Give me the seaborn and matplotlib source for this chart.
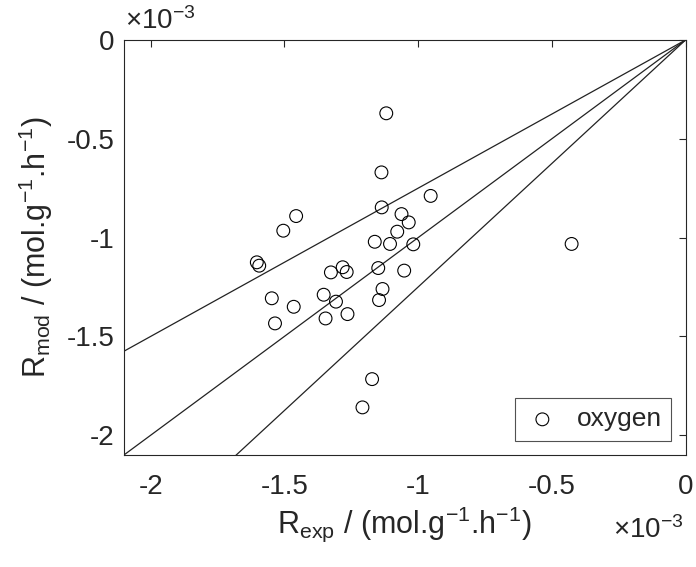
import matplotlib
matplotlib.use("Agg")
import matplotlib.pyplot as plt
import matplotlib.ticker as mticker
import numpy as np
import pandas as pd
import seaborn as sns

# Valori (mol.g-1.h-1)
r_exp = [-1.119e-3, -1.137e-3, -0.953e-3, -1.136e-3, -1.456e-3, -1.062e-3, -1.035e-3,
         -1.504e-3, -1.078e-3, -1.162e-3, -1.105e-3, -1.018e-3, -1.603e-3, -1.594e-3,
         -1.326e-3, -1.282e-3, -1.267e-3, -1.149e-3, -1.052e-3, -1.133e-3, -1.146e-3,
         -1.547e-3, -1.465e-3, -1.353e-3, -1.307e-3, -1.264e-3, -1.346e-3, -1.535e-3,
         -1.172e-3, -1.208e-3, -0.426e-3]
r_mod = [-0.371e-3, -0.670e-3, -0.789e-3, -0.847e-3, -0.891e-3, -0.881e-3, -0.923e-3,
         -0.965e-3, -0.970e-3, -1.021e-3, -1.032e-3, -1.034e-3, -1.125e-3, -1.142e-3,
         -1.176e-3, -1.150e-3, -1.174e-3, -1.154e-3, -1.167e-3, -1.260e-3, -1.316e-3,
         -1.307e-3, -1.350e-3, -1.289e-3, -1.324e-3, -1.387e-3, -1.409e-3, -1.434e-3,
         -1.716e-3, -1.859e-3, -1.032e-3]

# Rette di riferimento attraverso l'origine
slopes = [0.75, 1.0, 1.25]
x_lim = [-2.1e-3, 0]
y_lim = [-2.1e-3, 0]

df = pd.DataFrame({"R_exp": r_exp, "R_mod": r_mod})

sns.set_style("white")
plt.rcParams["font.family"] = ["Liberation Sans", "DejaVu Sans"]
plt.rcParams["mathtext.fontset"] = "custom"
plt.rcParams["mathtext.rm"] = "Liberation Sans"
plt.rcParams["mathtext.it"] = "Liberation Sans:italic"
plt.rcParams["axes.unicode_minus"] = False

fig = plt.figure(figsize=(6.96, 5.67), dpi=100)
ax = fig.add_axes([0.178, 0.1975, 0.807, 0.732])

grey = "#262626"
x_line = np.array(x_lim)
for s in slopes:
    ax.plot(x_line, s * x_line, color="#222222", linewidth=0.9, zorder=1)

sns.scatterplot(data=df, x="R_exp", y="R_mod", ax=ax, marker="o", s=85,
                facecolors="none", edgecolor="black", linewidth=0.8,
                label="oxygen", zorder=3)

ax.set_xlim(x_lim)
ax.set_ylim(y_lim)

ticks = [-2e-3, -1.5e-3, -1e-3, -0.5e-3, 0]
ax.set_xticks(ticks)
ax.set_yticks(ticks)
fmt = mticker.FuncFormatter(lambda v, p: f"{v * 1e3:g}")
ax.xaxis.set_major_formatter(fmt)
ax.yaxis.set_major_formatter(fmt)

ax.tick_params(direction="in", length=5, width=0.8, colors=grey, labelsize=20,
               top=True, right=True, labelcolor=grey)
ax.tick_params(axis="x", pad=14)
ax.tick_params(axis="y", pad=7)
for sp in ax.spines.values():
    sp.set_color(grey)
    sp.set_linewidth(0.8)

ax.set_xlabel(r"R$_{\mathrm{exp}}$ / (mol.g$^{\mathrm{-1}}$.h$^{\mathrm{-1}}$)",
              fontsize=22, color=grey, labelpad=3)
ax.set_ylabel(r"R$_{\mathrm{mod}}$ / (mol.g$^{\mathrm{-1}}$.h$^{\mathrm{-1}}$)",
              fontsize=22, color=grey, labelpad=8)

# Moltiplicatori stile MATLAB
fig.text(0.180, 0.962, r"$\times$10$^{\mathrm{-3}}$", fontsize=20, color=grey,
         ha="left", va="center")
fig.text(0.983, 0.065, r"$\times$10$^{\mathrm{-3}}$", fontsize=20, color=grey,
         ha="right", va="center")

leg = ax.legend(loc="lower right", fontsize=19, frameon=True, fancybox=False,
                handlelength=1.4, handletextpad=0.6, borderpad=0.35,
                borderaxespad=0.55)
leg.get_frame().set_edgecolor(grey)
leg.get_frame().set_linewidth(0.8)

plt.savefig("out.png", dpi=100)
plt.close()
